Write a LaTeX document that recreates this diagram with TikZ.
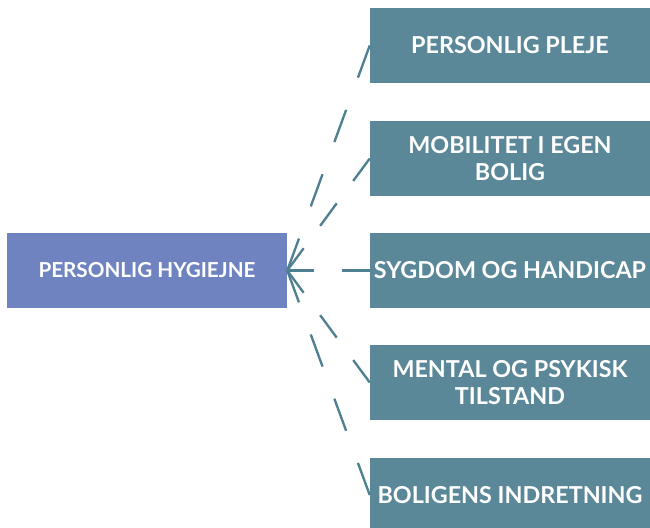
\documentclass[tikz,border=0pt]{standalone}
\usepackage{fontspec}
\setmainfont{Lato}

\definecolor{hubfill}{RGB}{111,131,193}
\definecolor{leaffill}{RGB}{90,136,152}
\definecolor{linkcol}{RGB}{78,128,145}

\tikzset{
  hubbox/.style={fill=hubfill, text=white, minimum width=210pt, minimum height=56.25pt,
    inner sep=0pt, font=\bfseries\fontsize{15.5}{18}\selectfont, align=center},
  leafbox/.style={fill=leaffill, text=white, minimum width=210pt, minimum height=56.25pt,
    inner sep=0pt, font=\bfseries\fontsize{17.5}{20.5}\selectfont, align=center},
  link/.style={draw=linkcol, line width=1.75pt}
}

\begin{document}
\begin{tikzpicture}[x=0.75pt,y=0.75pt,yscale=-1,xscale=1]
\useasboundingbox (0,0) rectangle (650,528);

% Center box
\node[hubbox] (hygiejne) at (147,270.5) {PERSONLIG HYGIEJNE};

% Right boxes
\node[leafbox] (pleje) at (510,45.5) {PERSONLIG PLEJE};
\node[leafbox] (mobilitet) at (510,158.5) {MOBILITET I EGEN\\BOLIG};
\node[leafbox] (sygdom) at (510,270.5) {SYGDOM OG HANDICAP};
\node[leafbox] (mental) at (510,382.5) {MENTAL OG PSYKISK\\TILSTAND};
\node[leafbox] (indretning) at (510,495) {BOLIGENS INDRETNING};

% Dashed links
\foreach \n/\d in {pleje/25.7pt,mobilitet/20.9pt,sygdom/20.75pt,mental/20.9pt,indretning/25.65pt}
  \draw[link, dash pattern=on \d off \d] (\n.west) -- (hygiejne.east);

\end{tikzpicture}
\end{document}
